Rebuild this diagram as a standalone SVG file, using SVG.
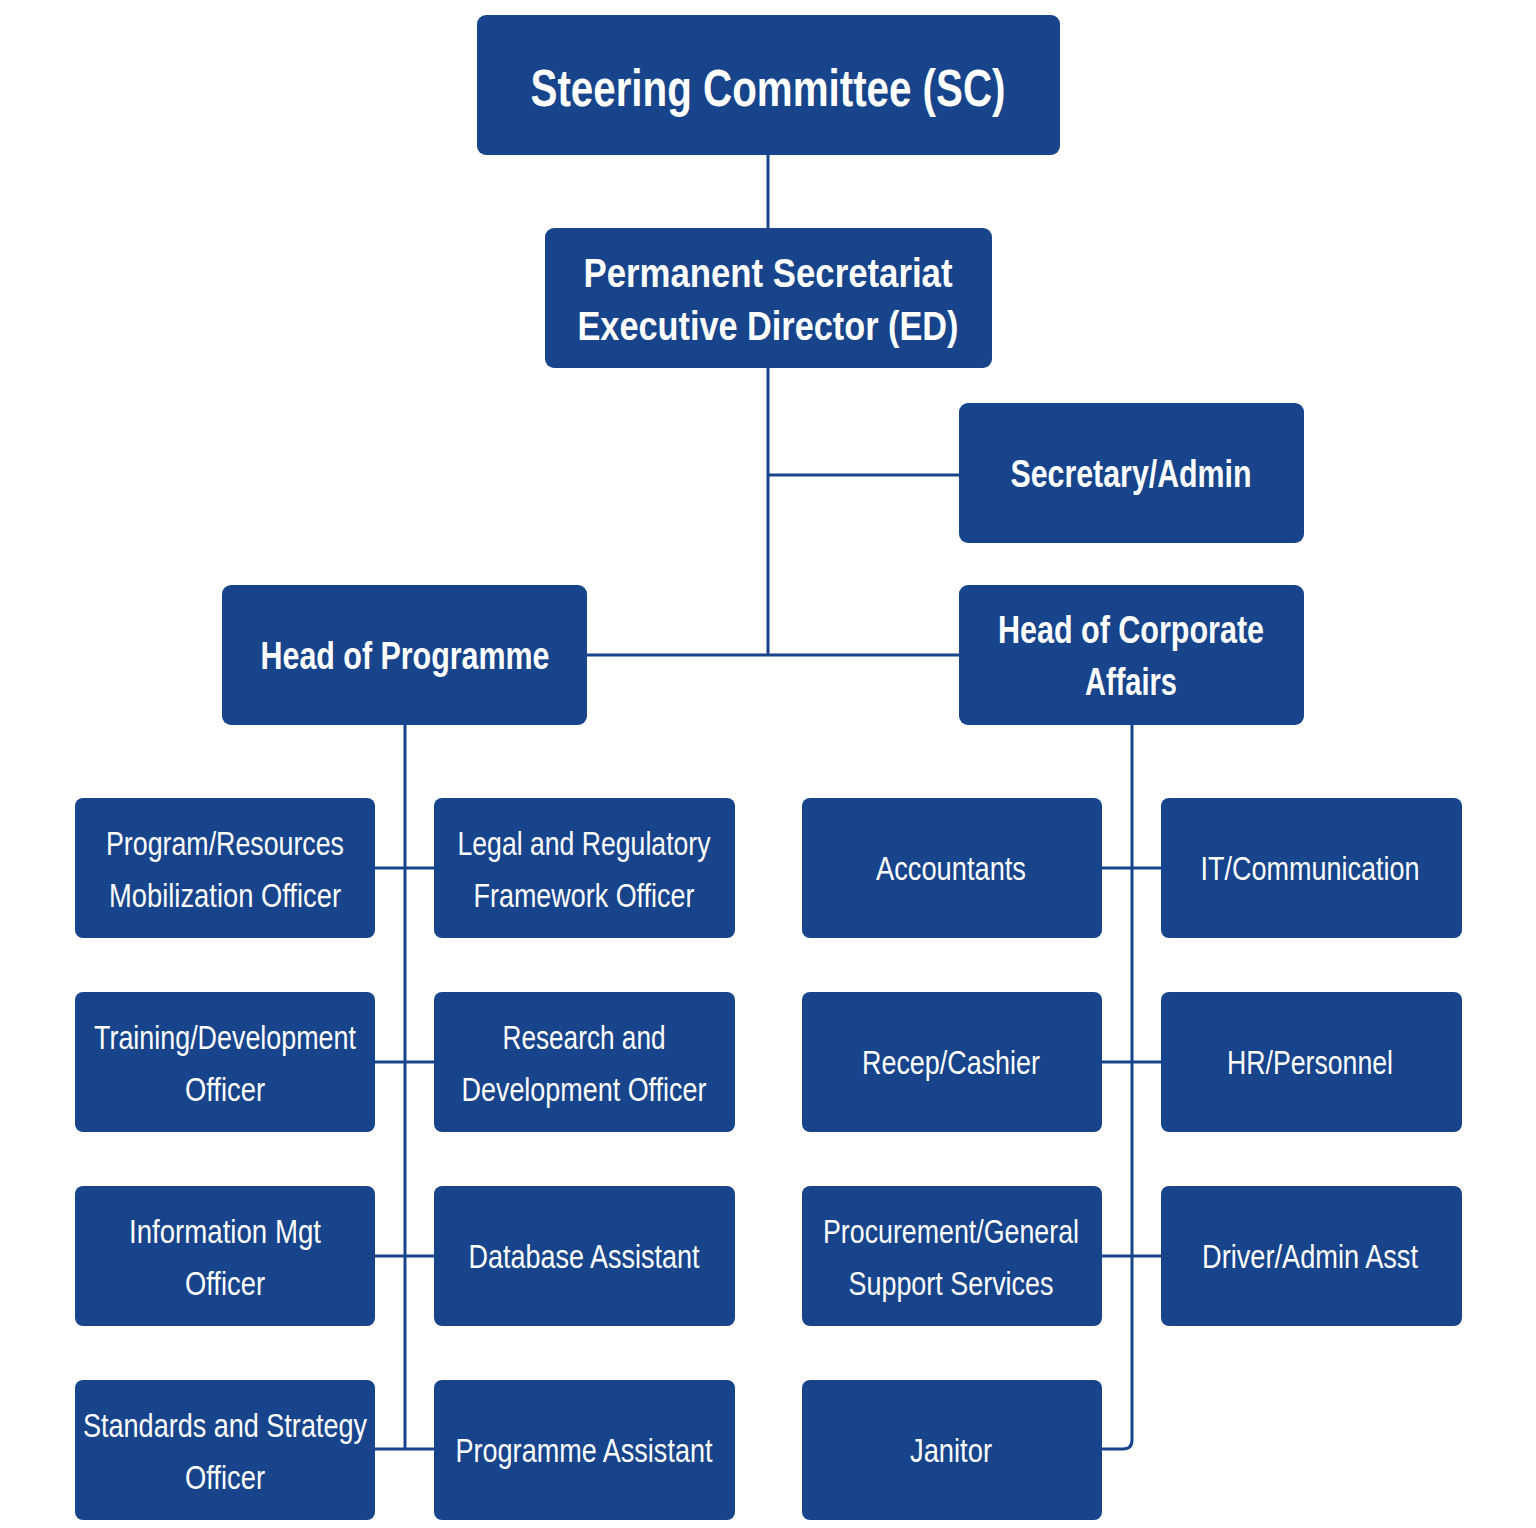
<svg xmlns="http://www.w3.org/2000/svg" width="1536" height="1528" viewBox="0 0 1536 1528">
<style>
.box{fill:#17448B}
.t{font-family:"Liberation Sans",Arial,sans-serif;fill:#fff;text-anchor:middle}
.b{font-weight:bold}
.s{font-size:34px}
.c{fill:none;stroke:#17448B;stroke-width:3}
</style>
<rect width="1536" height="1528" fill="#fff"/>
<g id="connectors" class="c">
<path d="M768 155V228"/>
<path d="M768 368V655"/>
<path d="M768 475H959"/>
<path d="M587 655H959"/>
<path d="M405 725V1449"/>
<path d="M375 868H434M375 1062H434M375 1256H434M375 1449H434"/>
<path d="M1132 725V1440Q1132 1449 1123 1449H1102"/>
<path d="M1102 868H1161M1102 1062H1161M1102 1256H1161"/>
</g>
<g id="sc"><rect class="box" x="477" y="15" width="583" height="140" rx="9"/>
<text class="t b" x="768" y="106" font-size="52" textLength="475" lengthAdjust="spacingAndGlyphs">Steering Committee (SC)</text></g>
<g id="ed"><rect class="box" x="545" y="228" width="447" height="140" rx="9"/>
<text class="t b" x="768" y="287" font-size="40" textLength="369" lengthAdjust="spacingAndGlyphs">Permanent Secretariat</text>
<text class="t b" x="768" y="340" font-size="40" textLength="381" lengthAdjust="spacingAndGlyphs">Executive Director (ED)</text></g>
<g id="secretary"><rect class="box" x="959" y="403" width="345" height="140" rx="9"/>
<text class="t b" x="1131" y="487" font-size="38" textLength="241" lengthAdjust="spacingAndGlyphs">Secretary/Admin</text></g>
<g id="hop"><rect class="box" x="222" y="585" width="365" height="140" rx="9"/>
<text class="t b" x="405" y="669" font-size="38" textLength="289" lengthAdjust="spacingAndGlyphs">Head of Programme</text></g>
<g id="hca"><rect class="box" x="959" y="585" width="345" height="140" rx="9"/>
<text class="t b" x="1131" y="643" font-size="38" textLength="266" lengthAdjust="spacingAndGlyphs">Head of Corporate</text>
<text class="t b" x="1131" y="695" font-size="38" textLength="92" lengthAdjust="spacingAndGlyphs">Affairs</text></g>

<g id="prog-resources"><rect class="box" x="75" y="798" width="300" height="140" rx="8"/>
<text class="t s" x="225" y="855" textLength="238" lengthAdjust="spacingAndGlyphs">Program/Resources</text>
<text class="t s" x="225" y="907" textLength="232" lengthAdjust="spacingAndGlyphs">Mobilization Officer</text></g>
<g id="legal"><rect class="box" x="434" y="798" width="301" height="140" rx="8"/>
<text class="t s" x="584" y="855" textLength="253" lengthAdjust="spacingAndGlyphs">Legal and Regulatory</text>
<text class="t s" x="584" y="907" textLength="221" lengthAdjust="spacingAndGlyphs">Framework Officer</text></g>
<g id="accountants"><rect class="box" x="802" y="798" width="300" height="140" rx="8"/>
<text class="t s" x="951" y="880" textLength="150" lengthAdjust="spacingAndGlyphs">Accountants</text></g>
<g id="it"><rect class="box" x="1161" y="798" width="301" height="140" rx="8"/>
<text class="t s" x="1310" y="880" textLength="219" lengthAdjust="spacingAndGlyphs">IT/Communication</text></g>

<g id="training"><rect class="box" x="75" y="992" width="300" height="140" rx="8"/>
<text class="t s" x="225" y="1049" textLength="262" lengthAdjust="spacingAndGlyphs">Training/Development</text>
<text class="t s" x="225" y="1101" textLength="80" lengthAdjust="spacingAndGlyphs">Officer</text></g>
<g id="research"><rect class="box" x="434" y="992" width="301" height="140" rx="8"/>
<text class="t s" x="584" y="1049" textLength="163" lengthAdjust="spacingAndGlyphs">Research and</text>
<text class="t s" x="584" y="1101" textLength="245" lengthAdjust="spacingAndGlyphs">Development Officer</text></g>
<g id="recep"><rect class="box" x="802" y="992" width="300" height="140" rx="8"/>
<text class="t s" x="951" y="1074" textLength="178" lengthAdjust="spacingAndGlyphs">Recep/Cashier</text></g>
<g id="hr"><rect class="box" x="1161" y="992" width="301" height="140" rx="8"/>
<text class="t s" x="1310" y="1074" textLength="166" lengthAdjust="spacingAndGlyphs">HR/Personnel</text></g>

<g id="info"><rect class="box" x="75" y="1186" width="300" height="140" rx="8"/>
<text class="t s" x="225" y="1243" textLength="192" lengthAdjust="spacingAndGlyphs">Information Mgt</text>
<text class="t s" x="225" y="1295" textLength="80" lengthAdjust="spacingAndGlyphs">Officer</text></g>
<g id="database"><rect class="box" x="434" y="1186" width="301" height="140" rx="8"/>
<text class="t s" x="584" y="1268" textLength="231" lengthAdjust="spacingAndGlyphs">Database Assistant</text></g>
<g id="procurement"><rect class="box" x="802" y="1186" width="300" height="140" rx="8"/>
<text class="t s" x="951" y="1243" textLength="256" lengthAdjust="spacingAndGlyphs">Procurement/General</text>
<text class="t s" x="951" y="1295" textLength="205" lengthAdjust="spacingAndGlyphs">Support Services</text></g>
<g id="driver"><rect class="box" x="1161" y="1186" width="301" height="140" rx="8"/>
<text class="t s" x="1310" y="1268" textLength="216" lengthAdjust="spacingAndGlyphs">Driver/Admin Asst</text></g>

<g id="standards"><rect class="box" x="75" y="1380" width="300" height="140" rx="8"/>
<text class="t s" x="225" y="1437" textLength="284" lengthAdjust="spacingAndGlyphs">Standards and Strategy</text>
<text class="t s" x="225" y="1489" textLength="80" lengthAdjust="spacingAndGlyphs">Officer</text></g>
<g id="prog-assistant"><rect class="box" x="434" y="1380" width="301" height="140" rx="8"/>
<text class="t s" x="584" y="1462" textLength="257" lengthAdjust="spacingAndGlyphs">Programme Assistant</text></g>
<g id="janitor"><rect class="box" x="802" y="1380" width="300" height="140" rx="8"/>
<text class="t s" x="951" y="1462" textLength="82" lengthAdjust="spacingAndGlyphs">Janitor</text></g>
</svg>
